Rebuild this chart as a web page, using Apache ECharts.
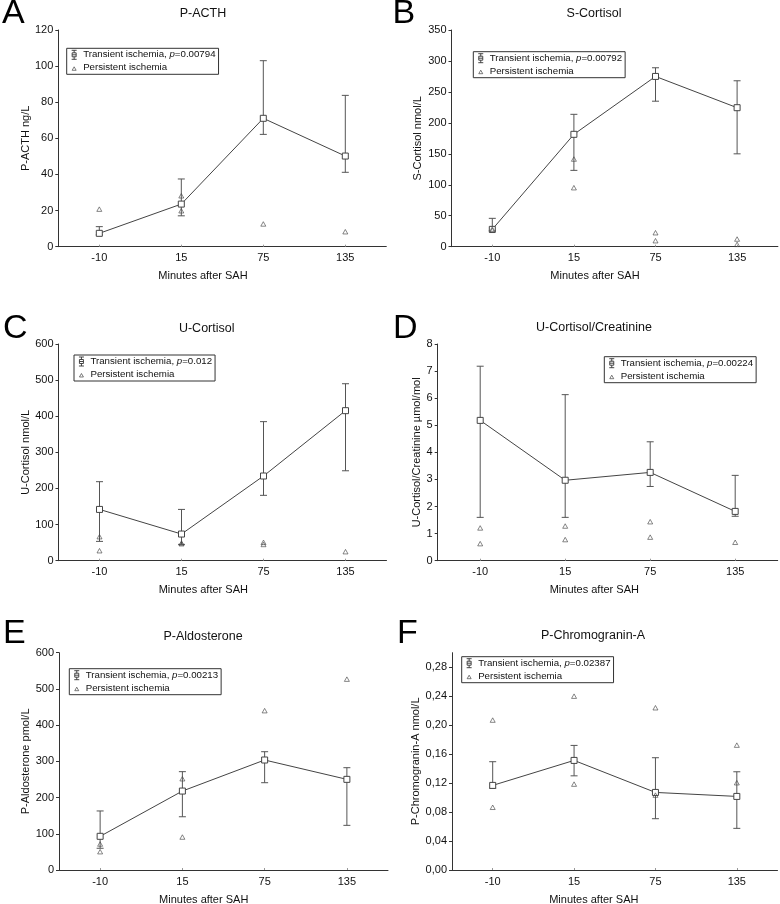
<!DOCTYPE html>
<html>
<head>
<meta charset="utf-8">
<script src="https://cdn.jsdelivr.net/npm/echarts@6/dist/echarts.min.js"></script>
<style>
html,body{margin:0;padding:0;background:#fff;}
#chart{width:780px;height:904px;}
</style>
</head>
<body>
<div id="chart"></div>
<script>
// ---------- DATA ----------
const categories = ['-10', '15', '75', '135'];
const xAxisName = 'Minutes after SAH';
const transientLabel = 'Transient ischemia';
const persistentLabel = 'Persistent ischemia';

// A: P-ACTH
const aTitle = 'P-ACTH', aYName = 'P-ACTH ng/L', aP = '0.00794';
const aMean = [7.4, 23.6, 71.1, 50.2];
const aLow  = [6.6, 17.1, 62.2, 41.2];
const aHigh = [11.1, 37.5, 103, 83.8];
const aPers = [['-10', 20.8], ['15', 28.2], ['15', 19.9], ['75', 12.6], ['135', 8.3]];
const aTicks = {max: 120, interval: 20};

// B: S-Cortisol
const bTitle = 'S-Cortisol', bYName = 'S-Cortisol nmol/L', bP = '0.00792';
const bMean = [28, 181.5, 275, 224.5];
const bLow  = [25.8, 123.3, 235, 150];
const bHigh = [45.8, 213.8, 289, 268];
const bPers = [['-10', 26.5], ['-10', 28.5], ['15', 141.6], ['15', 95.3], ['75', 22.6], ['75', 9.7], ['135', 12.4], ['135', 3.8]];
const bTicks = {max: 350, interval: 50};

// C: U-Cortisol
const cTitle = 'U-Cortisol', cYName = 'U-Cortisol nmol/L', cP = '0.012';
const cMean = [142, 73.8, 234.5, 415.4];
const cLow  = [53.5, 45.2, 181, 249];
const cHigh = [218.8, 142, 385, 490];
const cPers = [['-10', 66.5], ['-10', 27.7], ['15', 47], ['15', 49], ['75', 50.8], ['75', 45], ['135', 25]];
const cTicks = {max: 600, interval: 100};

// D: U-Cortisol/Creatinine
const dTitle = 'U-Cortisol/Creatinine', dYName = 'U-Cortisol/Creatinine µmol/mol', dP = '0.00224';
const dMean = [5.18, 2.97, 3.26, 1.82];
const dLow  = [1.6, 1.6, 2.74, 1.64];
const dHigh = [7.18, 6.13, 4.39, 3.15];
const dPers = [['-10', 1.21], ['-10', 0.63], ['15', 1.28], ['15', 0.78], ['75', 1.44], ['75', 0.87], ['135', 0.68]];
const dTicks = {max: 8, interval: 1};

// E: P-Aldosterone
const eTitle = 'P-Aldosterone', eYName = 'P-Aldosterone pmol/L', eP = '0.00213';
const eMean = [93, 218, 303.7, 250.3];
const eLow  = [60, 147, 241, 123.3];
const eHigh = [163, 271.5, 326.6, 282.5];
const ePers = [['-10', 71.8], ['-10', 50.6], ['15', 252], ['15', 91], ['75', 440], ['135', 527]];
const eTicks = {max: 600, interval: 100};

// F: P-Chromogranin-A
const fTitle = 'P-Chromogranin-A', fYName = 'P-Chromogranin-A nmol/L', fP = '0.02387';
const fMean = [0.1168, 0.1513, 0.1071, 0.1016];
const fLow  = [0.1128, 0.130, 0.0708, 0.0575];
const fHigh = [0.1495, 0.172, 0.155, 0.1356];
const fPers = [['-10', 0.207], ['-10', 0.0866], ['15', 0.240], ['15', 0.1186], ['75', 0.224], ['75', 0.1034], ['135', 0.1724], ['135', 0.1205]];
const fTicks = {max: 0.30, interval: 0.04};

// ---------- LAYOUT ----------
const panels = [
  {letter:'A', title:aTitle, yName:aYName, p:aP, mean:aMean, low:aLow, high:aHigh, pers:aPers, ticks:aTicks},
  {letter:'B', title:bTitle, yName:bYName, p:bP, mean:bMean, low:bLow, high:bHigh, pers:bPers, ticks:bTicks},
  {letter:'C', title:cTitle, yName:cYName, p:cP, mean:cMean, low:cLow, high:cHigh, pers:cPers, ticks:cTicks},
  {letter:'D', title:dTitle, yName:dYName, p:dP, mean:dMean, low:dLow, high:dHigh, pers:dPers, ticks:dTicks},
  {letter:'E', title:eTitle, yName:eYName, p:eP, mean:eMean, low:eLow, high:eHigh, pers:ePers, ticks:eTicks},
  {letter:'F', title:fTitle, yName:fYName, p:fP, mean:fMean, low:fLow, high:fHigh, pers:fPers, ticks:fTicks, comma:true}
];
const layout = [
  {grid:{left:58.3, top:30, width:328, height:216.7}, legend:{left:66.7, top:48.3}, yGap:25, xNameC:203, letterXY:[2,13.5], titleXY:[203,14]},
  {grid:{left:451.5, top:30, width:326.4, height:216.7}, legend:{left:473.3, top:51.7}, yGap:28, xNameC:595, letterXY:[392.5,13.5], titleXY:[594,14]},
  {grid:{left:58.5, top:344, width:328, height:216.7}, legend:{left:74, top:355}, yGap:26.5, xNameC:203.3, letterXY:[3,329], titleXY:[206.7,328.3]},
  {grid:{left:437.7, top:344, width:340, height:216.7}, legend:{left:604.3, top:356.7}, yGap:14.5, xNameC:594.3, letterXY:[393,329], titleXY:[594,327.3]},
  {grid:{left:59, top:652.7, width:329, height:217.3}, legend:{left:69.3, top:668.7}, yGap:27, xNameC:203.7, letterXY:[3,634], titleXY:[203,636.7]},
  {grid:{left:452, top:652.7, width:325.5, height:217.3}, legend:{left:461.7, top:656.7}, yGap:30, xNameC:593.8, letterXY:[397,634], titleXY:[593,635.7]}
];

const FONT = '"Liberation Sans", Arial, Helvetica, sans-serif';
const AXIS_COLOR = '#333';
const TEXT_COLOR = '#111';
const errIcon = 'path://M0,0M8,10M1.5,0.5H6.5M4,0.5V3M4,7V9.5M1.5,9.5H6.5M2,3H6V7H2ZM2,5H6';
const triIcon = 'path://M0,0M8,10M2,7.5L4,4L6,7.5Z';

const grids = [], xAxes = [], yAxes = [], series = [], legends = [], graphics = [];

function renderErr(params, api) {
  const xi = api.value(0);
  const lo = api.coord([xi, api.value(1)]);
  const hi = api.coord([xi, api.value(2)]);
  const hw = 3.5;
  const st = {stroke: '#555', lineWidth: 1, fill: null};
  return {type: 'group', children: [
    {type: 'line', shape: {x1: lo[0], y1: lo[1], x2: hi[0], y2: hi[1]}, style: st},
    {type: 'line', shape: {x1: lo[0]-hw, y1: lo[1], x2: lo[0]+hw, y2: lo[1]}, style: st},
    {type: 'line', shape: {x1: hi[0]-hw, y1: hi[1], x2: hi[0]+hw, y2: hi[1]}, style: st}
  ]};
}

panels.forEach((pn, i) => {
  const L = layout[i];
  const g = L.grid;
  grids.push(Object.assign({outerBoundsMode: 'none', containLabel: false}, g));
  const gridCenter = g.left + g.width / 2;
  const shift = 2 * (gridCenter - L.xNameC);
  xAxes.push({
    type: 'category', gridIndex: i, data: categories, boundaryGap: true,
    name: xAxisName, nameLocation: 'middle', nameGap: 24,
    nameTextStyle: {fontSize: 11, color: TEXT_COLOR, fontFamily: FONT, padding: shift > 0 ? [0, shift, 0, 0] : [0, 0, 0, -shift]},
    axisLine: {show: true, lineStyle: {color: AXIS_COLOR, width: 1}},
    axisTick: {show: true, alignWithLabel: true, inside: true, length: 2, lineStyle: {color: '#999'}},
    axisLabel: {fontSize: 11, color: TEXT_COLOR, margin: 6, fontFamily: FONT},
    splitLine: {show: false}
  });
  yAxes.push({
    type: 'value', gridIndex: i, min: 0, max: pn.ticks.max, interval: pn.ticks.interval,
    name: pn.yName, nameLocation: 'middle', nameGap: L.yGap,
    nameTextStyle: {fontSize: 11, color: TEXT_COLOR, fontFamily: FONT},
    axisLine: {show: true, lineStyle: {color: AXIS_COLOR, width: 1}},
    axisTick: {show: true, length: 3, lineStyle: {color: AXIS_COLOR}},
    axisLabel: {fontSize: 11, color: TEXT_COLOR, margin: 5, fontFamily: FONT, showMaxLabel: !pn.comma,
      formatter: pn.comma ? (v => v.toFixed(2).replace('.', ',')) : (v => String(v))},
    splitLine: {show: false}
  });
  const tName = transientLabel + ', p=' + pn.p;
  series.push({
    type: 'custom', name: 'err' + i, xAxisIndex: i, yAxisIndex: i,
    renderItem: renderErr, encode: {x: 0, y: [1, 2]},
    data: categories.map((c, k) => [k, pn.low[k], pn.high[k]]), z: 2, silent: true
  });
  series.push({
    type: 'line', name: tName, xAxisIndex: i, yAxisIndex: i,
    data: pn.mean, symbol: 'rect', symbolSize: 6, showAllSymbol: true,
    lineStyle: {color: '#444', width: 1},
    itemStyle: {color: '#fff', borderColor: '#444', borderWidth: 1}, z: 3, silent: true
  });
  series.push({
    type: 'scatter', name: persistentLabel, xAxisIndex: i, yAxisIndex: i,
    data: pn.pers, symbol: 'triangle', symbolSize: [5, 4.5],
    itemStyle: {color: 'rgba(0,0,0,0)', borderColor: '#444', borderWidth: 0.8}, z: 4, silent: true
  });
  legends.push({
    left: L.legend.left, top: L.legend.top, orient: 'vertical',
    selectedMode: false, borderColor: '#333', borderWidth: 1, padding: [1, 3, 1, 3],
    itemGap: 2, itemWidth: 8, itemHeight: 10, backgroundColor: '#fff',
    data: [
      {name: tName, icon: errIcon, itemStyle: {color: 'rgba(0,0,0,0)', borderColor: '#333', borderWidth: 0.9}},
      {name: persistentLabel, icon: triIcon, itemStyle: {color: 'rgba(0,0,0,0)', borderColor: '#333', borderWidth: 0.8}}
    ],
    formatter: name => name.indexOf(transientLabel) === 0
      ? '{n|' + transientLabel + ', }{i|p}{n|=' + name.split('p=')[1] + '}'
      : '{n|' + name + '}',
    textStyle: {fontSize: 9.7, color: TEXT_COLOR, fontFamily: FONT, lineHeight: 11,
      rich: {n: {fontSize: 9.7, fontFamily: FONT, color: TEXT_COLOR}, i: {fontSize: 9.7, fontStyle: 'italic', fontFamily: FONT, color: TEXT_COLOR}}}
  });
  graphics.push({type: 'text', x: L.letterXY[0], y: L.letterXY[1],
    style: {text: pn.letter, fontSize: 34, fontFamily: FONT, fill: '#000', align: 'left', verticalAlign: 'middle'}});
  graphics.push({type: 'text', x: L.titleXY[0], y: L.titleXY[1],
    style: {text: pn.title, fontSize: 12.5, fontFamily: FONT, fill: TEXT_COLOR, align: 'center', verticalAlign: 'middle'}});
});

const chart = echarts.init(document.getElementById('chart'), null, {renderer: 'canvas', width: 780, height: 904});
chart.setOption({
  animation: false,
  backgroundColor: '#fff',
  textStyle: {fontFamily: FONT},
  grid: grids, xAxis: xAxes, yAxis: yAxes, series: series, legend: legends, graphic: graphics
});
</script>
</body>
</html>
